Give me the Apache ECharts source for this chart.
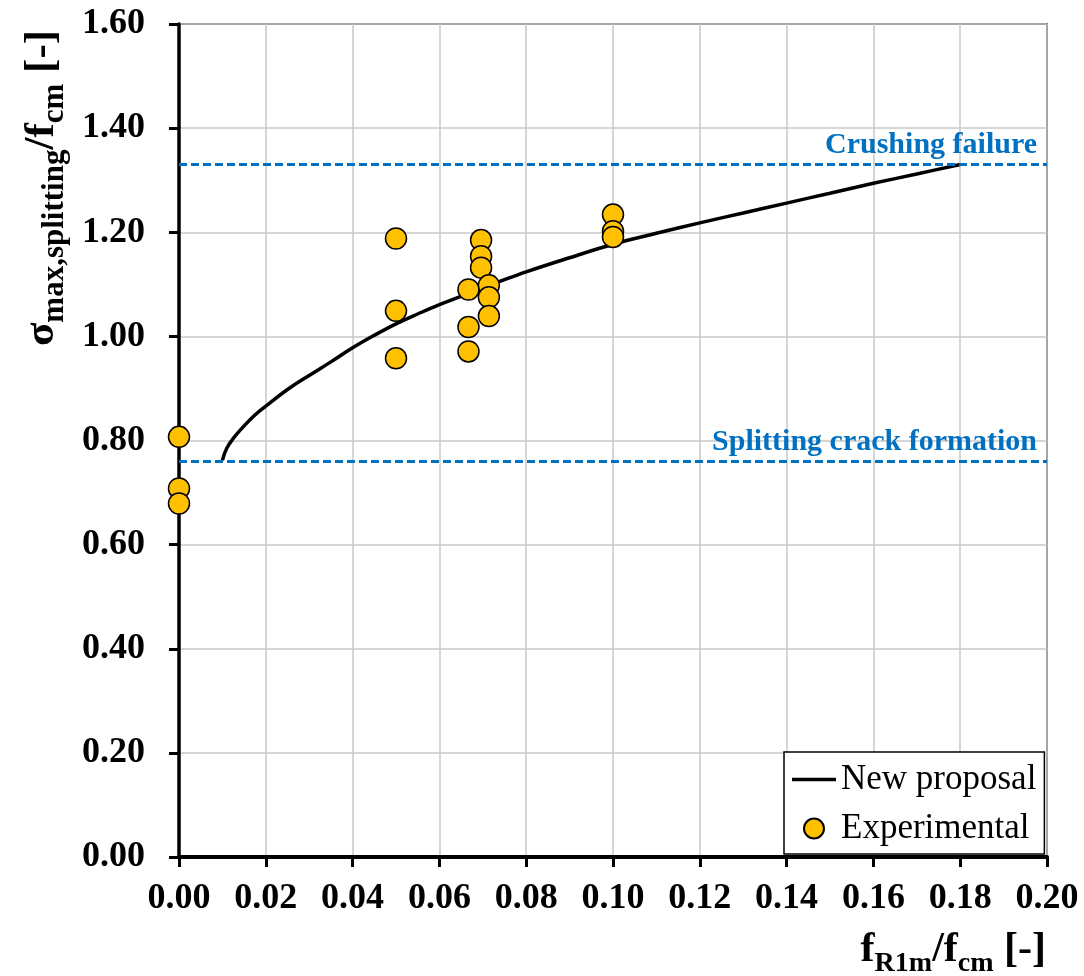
<!DOCTYPE html>
<html>
<head>
<meta charset="utf-8">
<script src="https://cdn.jsdelivr.net/npm/echarts@6/dist/echarts.min.js"></script>
<style>html,body{margin:0;padding:0;background:#fff}#c{width:1084px;height:976px}</style>
</head>
<body>
<div id="c"></div>
<script>
// Experimental points [fR1m/fcm, sigma/fcm]
var expX = [0.000, 0.000, 0.000, 0.050, 0.050, 0.050, 0.0667, 0.0667, 0.0667, 0.0696, 0.0696, 0.0696, 0.0714, 0.0714, 0.0714, 0.100, 0.100, 0.100];
var expY = [0.807, 0.708, 0.679, 1.188, 1.049, 0.958, 1.090, 1.018, 0.971, 1.185, 1.154, 1.132, 1.098, 1.075, 1.039, 1.234, 1.202, 1.191];
// New proposal curve
var curveX = [0.010, 0.011, 0.0125, 0.015, 0.0175, 0.020, 0.025, 0.030, 0.035, 0.040, 0.045, 0.050, 0.055, 0.060, 0.065, 0.070, 0.075, 0.080, 0.090, 0.100, 0.110, 0.120, 0.130, 0.140, 0.150, 0.160, 0.170, 0.180];
var curveY = [0.762, 0.785, 0.804, 0.828, 0.849, 0.866, 0.898, 0.925, 0.951, 0.978, 1.002, 1.024, 1.043, 1.061, 1.077, 1.093, 1.109, 1.124, 1.151, 1.177, 1.198, 1.218, 1.237, 1.256, 1.275, 1.294, 1.312, 1.330];
// Reference limits
var splittingLevel = 0.76;
var crushingLevel = 1.33;
var limitLabels = ['Splitting crack formation', 'Crushing failure'];
var seriesNames = ['New proposal', 'Experimental'];

var FONT = '"Liberation Serif", "Times New Roman", serif';
var chart = echarts.init(document.getElementById('c'), null, {renderer: 'canvas'});

var expData = expX.map(function (x, i) { return [x, expY[i]]; });
var curveData = curveX.map(function (x, i) { return [x, curveY[i]]; });

function makeRich(main, sub) {
  return {
    m: {fontFamily: FONT, fontWeight: 'bold', fontSize: main, lineHeight: main + 14, verticalAlign: 'middle', fill: '#000', color: '#000'},
    s: {fontFamily: FONT, fontWeight: 'bold', fontSize: sub, lineHeight: sub, verticalAlign: 'bottom', fill: '#000', color: '#000'}
  };
}

var option = {
  backgroundColor: '#fff',
  animation: false,
  grid: {left: 179, right: 37, top: 24, bottom: 119, show: true, borderColor: '#000', borderWidth: 1.5, backgroundColor: 'transparent'},
  xAxis: {
    type: 'value', min: 0, max: 0.2, interval: 0.02,
    axisLine: {show: true, onZero: false, lineStyle: {color: '#000', width: 4}},
    axisTick: {show: true, inside: false, length: 10, lineStyle: {color: '#000', width: 3}},
    splitLine: {show: true, lineStyle: {color: '#c8c8c8', width: 1.5}},
    axisLabel: {margin: 24, fontFamily: FONT, fontWeight: 'bold', fontSize: 36, color: '#000',
      formatter: function (v) { return v.toFixed(2); }}
  },
  yAxis: {
    type: 'value', min: 0, max: 1.6, interval: 0.2,
    axisLine: {show: true, onZero: false, lineStyle: {color: '#000', width: 3.5}},
    axisTick: {show: true, inside: false, length: 10, lineStyle: {color: '#000', width: 3}},
    splitLine: {show: true, lineStyle: {color: '#c8c8c8', width: 1.5}},
    axisLabel: {margin: 34, fontFamily: FONT, fontWeight: 'bold', fontSize: 36, color: '#000',
      formatter: function (v) { return v.toFixed(2); }}
  },
  legend: {
    orient: 'vertical', left: 784, top: 752,
    data: [{name: seriesNames[0], icon: 'path://M0 0H44V3.5H0Z'}, {name: seriesNames[1], icon: 'circle'}],
    itemWidth: 44, itemHeight: 20, itemGap: 14,
    padding: [10, 8, 8, 8],
    backgroundColor: '#fff', borderColor: '#000', borderWidth: 1.5, borderRadius: 0,
    textStyle: {fontFamily: FONT, fontSize: 35, color: '#000'}
  },
  series: [
    {
      name: seriesNames[0], type: 'line', data: curveData, smooth: 0.4,
      symbol: 'none', showSymbol: false, z: 3,
      lineStyle: {color: '#000', width: 3.5},
      itemStyle: {color: '#000'},
      markLine: {
        silent: true, symbol: ['none', 'none'],
        lineStyle: {color: '#0070C0', width: 2.8, type: [8, 4]},
        label: {show: true, position: 'insideEndTop', distance: [10, 4], fontFamily: FONT, fontWeight: 'bold', fontSize: 30, color: '#0070C0'},
        data: [
          {yAxis: splittingLevel, label: {formatter: limitLabels[0]}},
          {yAxis: crushingLevel, label: {formatter: limitLabels[1]}}
        ]
      }
    },
    {
      name: seriesNames[1], type: 'scatter', data: expData, z: 5,
      symbol: 'circle', symbolSize: 21,
      itemStyle: {color: '#FFC000', borderColor: '#000', borderWidth: 1.5, opacity: 1}
    }
  ],
  graphic: [
    {
      type: 'text', x: 42, y: 188, rotation: Math.PI / 2,
      style: {text: '{m|σ}{s|max,splitting}{m|/f}{s|cm}{m| [-]}', align: 'center', verticalAlign: 'middle', rich: makeRich(43, 31)}
    },
    {
      type: 'text', x: 1046, y: 950,
      style: {text: '{m|f}{s|R1m}{m|/f}{s|cm}{m| [-]}', align: 'right', verticalAlign: 'middle', rich: makeRich(42, 28)}
    }
  ]
};
chart.setOption(option);
</script>
</body>
</html>
